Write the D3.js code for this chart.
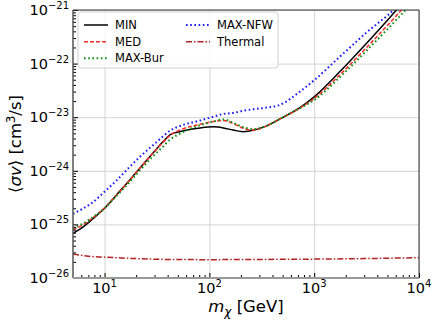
<!DOCTYPE html>
<html>
<head>
<meta charset="utf-8">
<script src="https://cdn.jsdelivr.net/npm/d3@7"></script>
<style>
  html, body { margin: 0; padding: 0; background: #fff; overflow: hidden; }
  svg { display: block; }
  text { font-family: "DejaVu Sans", sans-serif; fill: #000; }
</style>
</head>
<body>
<div id="chart"></div>
<script>
// masses (GeV) shared by the four limit curves
const massGeV = [5, 6.3, 7.8, 10, 13, 17.5, 21.7, 29, 36, 42, 52, 82, 109, 136, 169, 211, 263, 352, 471, 731, 1000, 1760, 3160, 6100, 10000];

// <sigma v> upper limits, cm^3/s
const svMin = [6.8e-26, 9.1e-26, 1.29e-25, 2.0e-25, 3.55e-25, 6.8e-25, 1.12e-24, 2.14e-24, 3.47e-24, 4.68e-24, 5.37e-24, 6.3e-24, 6.6e-24, 6.3e-24, 5.75e-24, 5.37e-24, 5.7e-24, 6.9e-24, 9.3e-24, 1.51e-23, 2.4e-23, 7.1e-23, 2.4e-22, 1.0e-21, 2.95e-21];
const svMed = [7.9e-26, 1.0e-25, 1.35e-25, 2.04e-25, 3.55e-25, 6.8e-25, 1.12e-24, 2.14e-24, 3.39e-24, 4.57e-24, 5.75e-24, 7.4e-24, 8.3e-24, 8.7e-24, 7.6e-24, 6.2e-24, 5.75e-24, 6.9e-24, 9.3e-24, 1.48e-23, 2.24e-23, 6.2e-23, 2.0e-22, 7.9e-22, 2.35e-21];
const svMaxBur = [8.5e-26, 1.05e-25, 1.38e-25, 2.0e-25, 3.4e-25, 6.3e-25, 1.02e-24, 1.86e-24, 2.82e-24, 3.8e-24, 4.9e-24, 7.1e-24, 8.3e-24, 9.1e-24, 7.8e-24, 6.5e-24, 6.0e-24, 6.9e-24, 9.3e-24, 1.48e-23, 2.09e-23, 5.6e-23, 1.74e-22, 6.6e-22, 1.9e-21];
const svMaxNfw = [1.58e-25, 2.0e-25, 2.63e-25, 4.07e-25, 6.6e-25, 1.2e-24, 1.82e-24, 3.0e-24, 4.37e-24, 5.6e-24, 6.8e-24, 8.7e-24, 1.02e-23, 1.15e-23, 1.2e-23, 1.32e-23, 1.41e-23, 1.51e-23, 1.7e-23, 3.0e-23, 4.9e-23, 1.35e-22, 3.8e-22, 1.12e-21, 3.2e-21];

// thermal relic cross section
const thermalMass = [5, 7, 10, 20, 40, 100, 300, 1000, 3000, 10000];
const svThermal = [2.8e-26, 2.55e-26, 2.45e-26, 2.3e-26, 2.22e-26, 2.2e-26, 2.22e-26, 2.25e-26, 2.3e-26, 2.4e-26];

const xMajor = [10, 100, 1000, 10000];
const xExp = ["1", "2", "3", "4"];
const yMajor = [1e-26, 1e-25, 1e-24, 1e-23, 1e-22, 1e-21];
const yExp = ["\u221226", "\u221225", "\u221224", "\u221223", "\u221222", "\u221221"];

const width = 436, height = 327;
const margin = { top: 10, right: 17, bottom: 49, left: 73 };
const innerWidth = width - margin.left - margin.right;
const innerHeight = height - margin.top - margin.bottom;

const svg = d3.select("#chart").append("svg")
    .attr("width", width)
    .attr("height", height);

const innerChart = svg.append("g")
    .attr("transform", `translate(${margin.left},${margin.top})`);

const xScale = d3.scaleLog().domain([5, 10000]).range([0, innerWidth]);
const yScale = d3.scaleLog().domain([1e-26, 1e-21]).range([innerHeight, 0]);

// minor tick values
const xMinor = [];
[1, 10, 100, 1000].forEach(d => { for (let k = 2; k <= 9; k++) if (d * k > 5 && d * k < 10000) xMinor.push(d * k); });
const yMinor = [];
yMajor.slice(0, 5).forEach(d => { for (let k = 2; k <= 9; k++) yMinor.push(d * k); });

/* grid */
innerChart.append("g")
    .attr("transform", `translate(0,${innerHeight})`)
    .call(d3.axisBottom(xScale).tickValues(xMajor).tickSize(-innerHeight).tickFormat(""))
    .call(g => g.select(".domain").remove())
    .selectAll("line").attr("stroke", "#d3d3d3").attr("stroke-width", 1);
innerChart.append("g")
    .call(d3.axisLeft(yScale).tickValues(yMajor).tickSize(-innerWidth).tickFormat(""))
    .call(g => g.select(".domain").remove())
    .selectAll("line").attr("stroke", "#d3d3d3").attr("stroke-width", 1);

/* curves */
innerChart.append("clipPath").attr("id", "clip")
    .append("rect").attr("width", innerWidth).attr("height", innerHeight);

const line = d3.line()
    .x(d => xScale(d[0]))
    .y(d => yScale(d[1]))
    .curve(d3.curveMonotoneX);

const series = [
    { name: "MIN", xs: massGeV, ys: svMin, color: "#000000", dash: null, w: 1.5 },
    { name: "MED", xs: massGeV, ys: svMed, color: "#ff2a2a", dash: "4,2", w: 1.5 },
    { name: "MAX-Bur", xs: massGeV, ys: svMaxBur, color: "#109010", dash: "1.6,2.6", w: 2 },
    { name: "MAX-NFW", xs: massGeV, ys: svMaxNfw, color: "#1a1aff", dash: "1.6,2.6", w: 2 },
    { name: "Thermal", xs: thermalMass, ys: svThermal, color: "#b22222", dash: "6,2,1.5,2", w: 1.5 }
];

const curves = innerChart.append("g").attr("clip-path", "url(#clip)");
series.forEach(s => {
    curves.append("path")
        .datum(s.xs.map((m, i) => [m, s.ys[i]]))
        .attr("d", line)
        .attr("fill", "none")
        .attr("stroke", s.color)
        .attr("stroke-width", s.w)
        .attr("stroke-dasharray", s.dash);
});

/* ticks (inward) */
const tickStyle = g => {
    g.select(".domain").remove();
    g.selectAll("line").attr("stroke", "#000").attr("stroke-width", 1);
};
innerChart.append("g").attr("transform", `translate(0,${innerHeight})`)
    .call(d3.axisBottom(xScale).tickValues(xMajor).tickSize(-5).tickFormat("")).call(tickStyle);
innerChart.append("g").attr("transform", `translate(0,${innerHeight})`)
    .call(d3.axisBottom(xScale).tickValues(xMinor).tickSize(-3).tickFormat("")).call(tickStyle);
innerChart.append("g")
    .call(d3.axisLeft(yScale).tickValues(yMajor).tickSize(-5).tickFormat("")).call(tickStyle);
innerChart.append("g")
    .call(d3.axisLeft(yScale).tickValues(yMinor).tickSize(-3).tickFormat("")).call(tickStyle);

/* spines */
innerChart.append("line").attr("x1", 0).attr("x2", innerWidth).attr("y1", 0).attr("y2", 0)
    .attr("stroke", "#333").attr("stroke-width", 1);
innerChart.append("line").attr("x1", innerWidth).attr("x2", innerWidth).attr("y1", 0).attr("y2", innerHeight)
    .attr("stroke", "#333").attr("stroke-width", 1);
innerChart.append("line").attr("x1", 0).attr("x2", 0).attr("y1", 0).attr("y2", innerHeight)
    .attr("stroke", "#555").attr("stroke-width", 1.5);
innerChart.append("line").attr("x1", 0).attr("x2", innerWidth).attr("y1", innerHeight).attr("y2", innerHeight)
    .attr("stroke", "#999").attr("stroke-width", 2);

/* tick labels: base and exponent as separate texts */
const labels = svg.append("g");
function powerLabel(x, y, exp, anchor) {
    const base = labels.append("text").attr("y", y).style("font-size", "14.5px").text("10");
    const sup = labels.append("text").attr("y", y - 6).style("font-size", "10px").text(exp);
    const bw = base.node().getComputedTextLength();
    const sw = sup.node().getComputedTextLength();
    const left = anchor === "middle" ? x - (bw + sw) / 2 : x - bw - sw;
    base.attr("x", left);
    sup.attr("x", left + bw);
}
xMajor.forEach((v, i) => powerLabel(margin.left + xScale(v), margin.top + innerHeight + 15, xExp[i], "middle"));
yMajor.forEach((v, i) => powerLabel(margin.left - 4, margin.top + yScale(v) + 5, yExp[i], "end"));

/* axis labels */
const xLabel = svg.append("text")
    .attr("x", margin.left + innerWidth / 2).attr("y", 312)
    .attr("text-anchor", "middle")
    .style("font-size", "16.5px");
xLabel.append("tspan").style("font-style", "italic").text("m");
xLabel.append("tspan").attr("dy", 4).style("font-size", "12px").style("font-style", "italic").text("\u03c7");
xLabel.append("tspan").attr("dy", -4).text(" [GeV]");

const yLabel = svg.append("text")
    .attr("transform", `translate(21,${margin.top + innerHeight / 2}) rotate(-90)`)
    .attr("text-anchor", "middle")
    .style("font-size", "16.5px");
yLabel.append("tspan").text("\u27e8");
yLabel.append("tspan").style("font-style", "italic").text("\u03c3v");
yLabel.append("tspan").text("\u27e9 [cm");
yLabel.append("tspan").attr("dy", -6).style("font-size", "11.5px").text("3");
yLabel.append("tspan").attr("dy", 6).text("/s]");

/* legend */
const legend = svg.append("g");
legend.append("rect")
    .attr("x", 78).attr("y", 12).attr("width", 200).attr("height", 56)
    .attr("rx", 3)
    .attr("fill", "#fff").attr("fill-opacity", 0.8)
    .attr("stroke", "#d0d0d0").attr("stroke-width", 1);

const legendPos = [
    { x: 84, y: 25 }, { x: 84, y: 41.7 }, { x: 84, y: 58.3 },
    { x: 186, y: 25 }, { x: 186, y: 41.7 }
];
series.forEach((s, i) => {
    const p = legendPos[i];
    legend.append("line")
        .attr("x1", p.x).attr("x2", p.x + 24)
        .attr("y1", p.y).attr("y2", p.y)
        .attr("stroke", s.color)
        .attr("stroke-width", s.w)
        .attr("stroke-dasharray", s.dash);
    legend.append("text")
        .attr("x", p.x + 31).attr("y", p.y + 4)
        .style("font-size", "11.5px")
        .text(s.name);
});
</script>
</body>
</html>
